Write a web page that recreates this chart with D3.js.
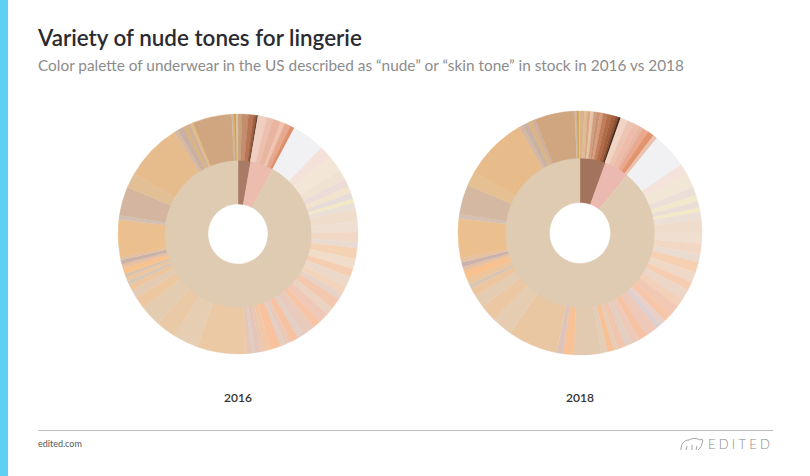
<!DOCTYPE html>
<html>
<head>
<meta charset="utf-8">
<script src="https://cdn.jsdelivr.net/npm/d3@7"></script>
<style>
  body { margin: 0; background: #fff; }
  svg { display: block; font-family: Lato, "Open Sans", sans-serif; }
</style>
</head>
<body>
<div id="chart"></div>
<script>
const years = ["2016", "2018"];

// inner ring: tone families
const innerColors2016 = ["#a97a65", "#ecbcae", "#dfcbb1"];
const innerShares2016 = [10, 18, 332];
const innerColors2018 = ["#a4735e", "#ebb9b0", "#dfcbb1"];
const innerShares2018 = [20, 19, 321];

// outer ring: individual tones
const outerColors2016 = [
  "#c9a27e", "#c48e6c", "#b87656", "#a0603e", "#5c3322", "#e8d0c0",
  "#f0cfc0", "#ecc0ae", "#e8b6a0", "#f0c4b0", "#e6a88e", "#df8e6c",
  "#f1f1f3", "#f4e2da", "#f3e6d6", "#efe2d2", "#ebdcd8", "#f2e3cc", "#e8dcd8", "#f2e8c4",
  "#eadfd6", "#f0dccb", "#efdfd3", "#f0d8c4", "#e9dbd1", "#f6d2b4", "#f0dcc8", "#f5cdb0",
  "#ecd8c8", "#f2d4bc", "#e6d2c6", "#f3c8ae", "#ecd2c0", "#f0c8b8", "#f7c4a6", "#e9cbbd",
  "#e2d0c6", "#f6c2a2", "#ecc8b6", "#ded0c8", "#f8c29e", "#f3c6a4", "#e8c8b0", "#e6c4b8",
  "#d9cfc8", "#e7c6b4", "#ecc9a5", "#e6ceb2", "#eac9a6", "#e4ccb0", "#ecc7a0", "#e2cbb2",
  "#eec59c", "#d8c6b4", "#ebc69e", "#d6c2b2", "#f8c28c", "#e7c0a4", "#c8b2aa", "#e4c0a2",
  "#ecc08e", "#d4c0b2", "#d3b5a0", "#e2bf94", "#e7bc8c", "#d8b8a0", "#c8b0a2", "#dcb27a",
  "#d0b09a", "#e0bc86", "#cfa67f", "#cbb8a8", "#d6a24e", "#d8c0a8"
];
const outerShares2016 = [
  2, 3, 2.5, 1.5, 0.6, 0.4,
  4, 3, 4, 2, 3, 2,
  16, 6, 8, 5, 4, 3, 3, 2,
  3, 6, 5, 5, 3, 5, 5, 4,
  5, 4, 3, 5, 4, 5, 4, 6,
  3, 4, 3, 2, 5, 3, 2, 3,
  1.5, 2.5, 24, 12, 10, 10, 6, 4,
  3, 2, 2, 1.5, 3, 2, 2, 1.5,
  18, 2, 14, 7, 28, 2, 3, 1.5,
  2, 1.5, 19, 1, 1.2, 0.8
];

const outerColors2018 = [
  "#d9b48a", "#e0bc94", "#d6a886", "#e8c4a6", "#cfa080", "#c89272", "#d89c7c",
  "#c07e5a", "#b26c48", "#a4603e", "#8c5034", "#4a2614", "#e8d8cc",
  "#f2d4c4", "#ecc4b2", "#f0bcaa", "#e8b8a6", "#eaa98e", "#e2946e", "#ebc0ae",
  "#f1f1f3", "#f3e3da", "#f2e6d6", "#ebdfd8", "#f2e8cc", "#e9ddd6", "#f3e9c6", "#ecdfd5",
  "#f0dccb", "#efdfd0", "#f2d8c4", "#eadbd0", "#f5d0b2", "#efd9c6", "#f6cdb0", "#ebd6c8",
  "#f3d0b8", "#f0c8b4", "#f7c6a8", "#e8d0c8", "#d8d0d2", "#eec8b8", "#f6c2a4", "#ecc9b8",
  "#e3cfc2", "#f0c6ae", "#e6cdb8", "#f8c096", "#e4cdb6", "#e1cab0", "#f9c296", "#dcc4bc",
  "#eac7a3", "#e6cdb1", "#ebc8a3", "#e3ccb2", "#edc59e", "#d8c5b4", "#eac59e", "#f8c18e",
  "#e5c0a4", "#cab2ae", "#e6c2a2", "#ecc08e", "#d4c0b2", "#d5b8a2", "#e4c092", "#e8bb8a",
  "#d6b8a2", "#c9b2a4", "#ddb37c", "#d0b09c", "#cfa67f", "#cbb8a8", "#d6a24e", "#d8c0a8"
];
const outerShares2018 = [
  2, 1.5, 1.5, 1.5, 1.5, 1.5, 1.5,
  2, 2, 2, 1.5, 1, 0.5,
  3, 3, 3, 2, 3, 3, 2,
  17, 5, 7, 4, 3, 3, 2, 4,
  6, 5, 5, 4, 5, 5, 4, 5,
  4, 5, 4, 3, 2, 6, 4, 4,
  3, 4, 2, 3, 3, 13, 5, 3,
  24, 10, 8, 6, 4, 2, 3, 4,
  2, 2, 2, 19, 2, 14, 7, 30,
  2, 3, 1.5, 2, 19, 1, 1, 0.5
];

const rings = [
  { year: years[0], cx: 238, cy: 234, r: 120,
    inner: innerShares2016.map((v, i) => ({ v, c: innerColors2016[i] })),
    outer: outerShares2016.map((v, i) => ({ v, c: outerColors2016[i] })) },
  { year: years[1], cx: 580, cy: 233, r: 122,
    inner: innerShares2018.map((v, i) => ({ v, c: innerColors2018[i] })),
    outer: outerShares2018.map((v, i) => ({ v, c: outerColors2018[i] })) }
];

const width = 810;
const height = 476;

const svg = d3
  .select("#chart")
  .append("svg")
  .attr("width", width)
  .attr("height", height);

// left accent bar
svg.append("rect")
  .attr("x", 0).attr("y", 0)
  .attr("width", 8).attr("height", height)
  .attr("fill", "#5fcff2");

const fitText = (sel, target) => {
  const w = sel.node().getComputedTextLength();
  const fs = parseFloat(sel.attr("font-size"));
  sel.attr("font-size", (fs * target / w).toFixed(2));
};

svg.append("text")
  .attr("x", 38).attr("y", 46)
  .attr("font-size", 21)
  .attr("font-weight", 600)
  .attr("fill", "#2a2a30")
  .text("Variety of nude tones for lingerie")
  .call(fitText, 324);

svg.append("text")
  .attr("x", 38).attr("y", 71)
  .attr("font-size", 14.5)
  .attr("fill", "#8c8c8c")
  .text("Color palette of underwear in the US described as \u201cnude\u201d or \u201cskin tone\u201d in stock in 2016 vs 2018")
  .call(fitText, 646);

const pie = d3.pie().sort(null).value(d => d.v);

rings.forEach(ring => {
  const g = svg.append("g")
    .attr("transform", `translate(${ring.cx}, ${ring.cy})`);

  const outerArc = d3.arc()
    .innerRadius(ring.r * 0.6)
    .outerRadius(ring.r);
  const innerArc = d3.arc()
    .innerRadius(ring.r * 0.25)
    .outerRadius(ring.r * 0.61);

  g.selectAll("path.outer")
    .data(pie(ring.outer))
    .enter()
    .append("path")
    .attr("class", "outer")
    .attr("d", outerArc)
    .attr("fill", d => d.data.c)
    .attr("stroke", d => d.data.c)
    .attr("stroke-width", 0.4);

  g.selectAll("path.inner")
    .data(pie(ring.inner))
    .enter()
    .append("path")
    .attr("class", "inner")
    .attr("d", innerArc)
    .attr("fill", d => d.data.c)
    .attr("stroke", d => d.data.c)
    .attr("stroke-width", 0.4);

  svg.append("text")
    .attr("x", ring.cx).attr("y", 402)
    .attr("text-anchor", "middle")
    .attr("font-size", 12)
    .attr("font-weight", 600)
    .attr("fill", "#333")
    .text(ring.year);
});

// footer
svg.append("line")
  .attr("x1", 38).attr("x2", 773)
  .attr("y1", 430.5).attr("y2", 430.5)
  .attr("stroke", "#bcbcbc")
  .attr("stroke-width", 1);

svg.append("text")
  .attr("x", 38).attr("y", 447)
  .attr("font-size", 9)
  .attr("fill", "#555")
  .text("edited.com");

svg.append("text")
  .attr("x", 773).attr("y", 449)
  .attr("text-anchor", "end")
  .attr("font-size", 13)
  .attr("font-weight", 300)
  .attr("letter-spacing", 3.2)
  .attr("fill", "#8a8a8a")
  .text("EDITED");

// little bear mark
svg.append("path")
  .attr("d", "M681,450 C681,444 684,440 689,440 C692,438 697,438 700,440 L702,439 C703,440 703,442 702,443 C702,446 700,448 698,450 M686,450 L687,446 M692,450 L692,445 M696,450 L697,446")
  .attr("fill", "none")
  .attr("stroke", "#8a8a8a")
  .attr("stroke-width", 0.8);
</script>
</body>
</html>
